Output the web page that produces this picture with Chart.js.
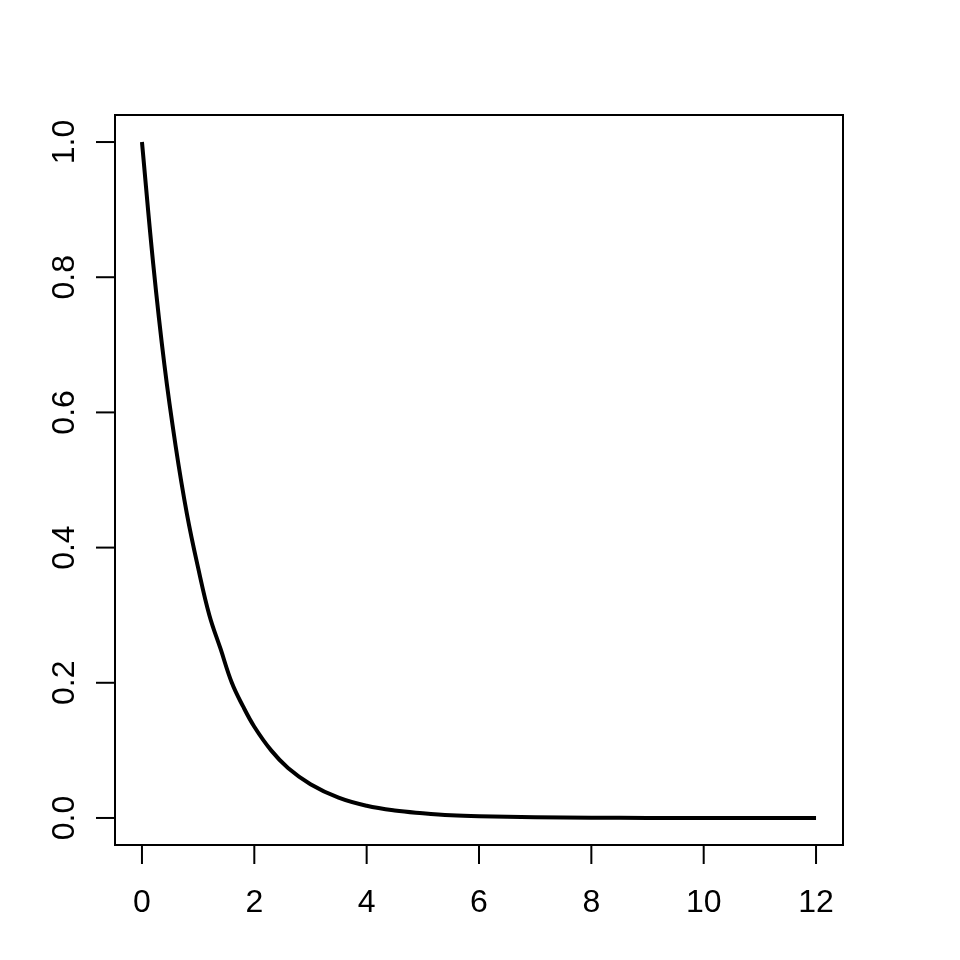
<!DOCTYPE html>
<html>
<head>
<meta charset="utf-8">
<script src="https://cdn.jsdelivr.net/npm/chart.js@4"></script>
<style>
  html, body { margin: 0; padding: 0; background: #fff; }
  #wrap { width: 960px; height: 960px; }
</style>
</head>
<body>
<div id="wrap"><canvas id="curveChart"></canvas></div>
<script>
// values
const xValues = [0, 0.2, 0.4, 0.6, 0.8, 1.0, 1.2, 1.4, 1.6, 1.8, 2.0, 2.3, 2.6, 3.0, 3.5, 4, 4.5, 5, 5.5, 6, 7, 8, 9, 10, 11, 12];
const yValues = [1.0, 0.82, 0.67, 0.55, 0.45, 0.37, 0.30, 0.25, 0.20, 0.165, 0.135, 0.10, 0.074, 0.05, 0.03, 0.018, 0.011, 0.007, 0.004, 0.0025, 0.001, 0.0003, 0.0001, 0, 0, 0];
const xTicks = [0, 2, 4, 6, 8, 10, 12];
const yTicks = [0.0, 0.2, 0.4, 0.6, 0.8, 1.0];
const yTickLabels = ['0.0', '0.2', '0.4', '0.6', '0.8', '1.0'];

const points = xValues.map((x, i) => ({ x: x, y: yValues[i] }));

// R style frame, tick marks and labels, placed with the chart's own scales
const rAxes = {
    id: 'rAxes',
    afterDraw(chart) {
        const ctx = chart.ctx;
        const area = chart.chartArea;
        const xs = chart.scales.x;
        const ys = chart.scales.y;
        ctx.save();
        ctx.strokeStyle = '#000';
        ctx.lineWidth = 2;
        ctx.strokeRect(area.left, area.top, area.right - area.left, area.bottom - area.top);

        ctx.fillStyle = '#000';
        ctx.font = '32px "Liberation Sans", Arial, sans-serif';

        // x axis
        ctx.beginPath();
        ctx.moveTo(xs.getPixelForValue(xTicks[0]), area.bottom);
        ctx.lineTo(xs.getPixelForValue(xTicks[xTicks.length - 1]), area.bottom);
        ctx.stroke();
        ctx.textAlign = 'center';
        ctx.textBaseline = 'middle';
        xTicks.forEach(t => {
            const px = xs.getPixelForValue(t);
            ctx.beginPath();
            ctx.moveTo(px, area.bottom);
            ctx.lineTo(px, area.bottom + 19);
            ctx.stroke();
            ctx.fillText(String(t), px, area.bottom + 58);
        });

        // y axis, labels turned like R's las = 0
        yTicks.forEach((t, i) => {
            const py = ys.getPixelForValue(t);
            ctx.beginPath();
            ctx.moveTo(area.left, py);
            ctx.lineTo(area.left - 19, py);
            ctx.stroke();
            ctx.save();
            ctx.translate(area.left - 50, py);
            ctx.rotate(-Math.PI / 2);
            ctx.fillText(yTickLabels[i], 0, 0);
            ctx.restore();
        });
        ctx.restore();
    }
};

const chartCanvas = document.getElementById('curveChart').getContext('2d');
const curveChart = new Chart(chartCanvas, {
    type: 'line',
    data: {
        datasets: [{
            data: points,
            borderColor: '#000',
            borderWidth: 4,
            pointRadius: 0,
            fill: false,
            tension: 0.4
        }]
    },
    options: {
        responsive: true,
        maintainAspectRatio: false,
        animation: false,
        layout: {
            padding: { left: 115, top: 115, right: 117, bottom: 115 }
        },
        plugins: {
            legend: { display: false },
            tooltip: { enabled: false }
        },
        scales: {
            x: { type: 'linear', min: -0.48, max: 12.48, display: false },
            y: { type: 'linear', min: -0.04, max: 1.04, display: false }
        }
    },
    plugins: [rAxes]
});
</script>
</body>
</html>
